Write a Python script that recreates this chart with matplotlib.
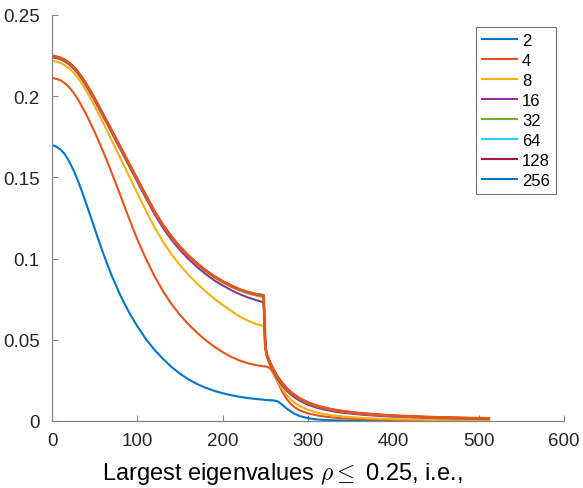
import matplotlib
matplotlib.use("Agg")
import matplotlib.pyplot as plt
from matplotlib.lines import Line2D

plt.rcParams['font.family'] = ['Liberation Sans', 'DejaVu Sans']
plt.rcParams['mathtext.fontset'] = 'cm'

# sample positions (index of eigenvalue), jump right after 248
x = [1, 5, 10, 15, 20, 25, 30, 35, 40, 45, 50, 55, 60, 65, 70, 80, 90, 100, 110, 120,
     130, 140, 150, 160, 170, 180, 190, 200, 210, 220, 230, 240, 248,
     250, 252, 255, 258, 260, 263, 265, 268, 270, 275, 280, 285, 290, 300, 310, 320,
     330, 340, 355, 370, 385, 400, 425, 450, 480, 512]

labels = ['2', '4', '8', '16', '32', '64', '128', '256']

y2 = [0.1697, 0.1690, 0.1672, 0.1643, 0.1600, 0.1547, 0.1485, 0.1415, 0.1340, 0.1263,
      0.1185, 0.1108, 0.1033, 0.0962, 0.0895, 0.0775, 0.0672, 0.0583, 0.0505, 0.0439,
      0.0383, 0.0333, 0.0291, 0.0256, 0.0228, 0.0205, 0.0186, 0.0171, 0.0159, 0.0149,
      0.0141, 0.0135, 0.0131,
      0.0130, 0.0129, 0.0128, 0.0127, 0.0126, 0.0123, 0.0119, 0.0108, 0.0099, 0.0077,
      0.0058, 0.0043, 0.0031, 0.0017, 0.0010, 0.0006, 0.0004, 0.0003, 0.0002, 0.0002,
      0.0001, 0.0001, 0.0001, 0.0001, 0.0001, 0.0001]
y4 = [0.2111, 0.2107, 0.2098, 0.2080, 0.2056, 0.2023, 0.1984, 0.1938, 0.1889, 0.1835,
      0.1779, 0.1720, 0.1658, 0.1594, 0.1528, 0.1391, 0.1251, 0.1118, 0.1000, 0.0893,
      0.0800, 0.0720, 0.0653, 0.0595, 0.0544, 0.0498, 0.0458, 0.0424, 0.0395, 0.0372,
      0.0355, 0.0343, 0.0337,
      0.0336, 0.0334, 0.0326, 0.0305, 0.0287, 0.0255, 0.0233, 0.0200, 0.0179, 0.0136,
      0.0104, 0.0082, 0.0066, 0.0047, 0.0035, 0.0027, 0.0021, 0.0017, 0.0013, 0.0010,
      0.0008, 0.0007, 0.0005, 0.0004, 0.0003, 0.0003]
y8 = [0.2217, 0.2213, 0.2205, 0.2191, 0.2172, 0.2147, 0.2116, 0.2078, 0.2035, 0.1988,
      0.1939, 0.1887, 0.1835, 0.1782, 0.1728, 0.1620, 0.1512, 0.1403, 0.1297, 0.1194,
      0.1104, 0.1027, 0.0959, 0.0900, 0.0846, 0.0798, 0.0754, 0.0715, 0.0678, 0.0643,
      0.0617, 0.0596, 0.0585,
      0.0445, 0.0392, 0.0350, 0.0312, 0.0290, 0.0258, 0.0238, 0.0212, 0.0196, 0.0161,
      0.0132, 0.0110, 0.0093, 0.0069, 0.0053, 0.0042, 0.0034, 0.0028, 0.0022, 0.0017,
      0.0014, 0.0012, 0.0009, 0.0007, 0.0006, 0.0005]
y16 = [0.2239, 0.2235, 0.2228, 0.2214, 0.2196, 0.2171, 0.2142, 0.2105, 0.2064, 0.2019,
       0.1973, 0.1923, 0.1874, 0.1825, 0.1774, 0.1674, 0.1573, 0.1473, 0.1373, 0.1275,
       0.1189, 0.1116, 0.1052, 0.0997, 0.0948, 0.0905, 0.0867, 0.0835, 0.0806, 0.0781,
       0.0760, 0.0743, 0.0731,
       0.0452, 0.0397, 0.0355, 0.0320, 0.0299, 0.0270, 0.0253, 0.0231, 0.0217, 0.0187,
       0.0162, 0.0142, 0.0126, 0.0100, 0.0082, 0.0069, 0.0059, 0.0051, 0.0043, 0.0036,
       0.0031, 0.0027, 0.0022, 0.0018, 0.0015, 0.0012]
y32 = [0.2245, 0.2241, 0.2234, 0.2221, 0.2203, 0.2179, 0.2150, 0.2113, 0.2072, 0.2028,
       0.1982, 0.1933, 0.1884, 0.1835, 0.1785, 0.1685, 0.1584, 0.1484, 0.1385, 0.1288,
       0.1203, 0.1131, 0.1067, 0.1013, 0.0965, 0.0922, 0.0885, 0.0854, 0.0826, 0.0803,
       0.0785, 0.0771, 0.0763,
       0.0458, 0.0402, 0.0361, 0.0328, 0.0308, 0.0280, 0.0264, 0.0242, 0.0228, 0.0198,
       0.0173, 0.0153, 0.0136, 0.0109, 0.0090, 0.0077, 0.0066, 0.0058, 0.0049, 0.0042,
       0.0036, 0.0031, 0.0026, 0.0022, 0.0018, 0.0015]
y64 = [0.2246, 0.2242, 0.2235, 0.2222, 0.2204, 0.2180, 0.2151, 0.2115, 0.2074, 0.2030,
       0.1984, 0.1935, 0.1886, 0.1837, 0.1787, 0.1687, 0.1587, 0.1487, 0.1388, 0.1291,
       0.1206, 0.1134, 0.1071, 0.1017, 0.0969, 0.0927, 0.0890, 0.0859, 0.0832, 0.0809,
       0.0792, 0.0779, 0.0773,
       0.0460, 0.0404, 0.0364, 0.0331, 0.0311, 0.0283, 0.0267, 0.0245, 0.0231, 0.0201,
       0.0176, 0.0156, 0.0139, 0.0112, 0.0093, 0.0079, 0.0068, 0.0060, 0.0050, 0.0043,
       0.0037, 0.0032, 0.0027, 0.0022, 0.0019, 0.0016]
y128 = [0.2247, 0.2243, 0.2236, 0.2223, 0.2205, 0.2181, 0.2152, 0.2116, 0.2075, 0.2031,
        0.1985, 0.1936, 0.1887, 0.1838, 0.1788, 0.1688, 0.1588, 0.1488, 0.1389, 0.1292,
        0.1207, 0.1135, 0.1072, 0.1018, 0.0970, 0.0928, 0.0891, 0.0860, 0.0833, 0.0810,
        0.0793, 0.0780, 0.0774,
        0.0460, 0.0405, 0.0365, 0.0332, 0.0312, 0.0284, 0.0268, 0.0246, 0.0232, 0.0202,
        0.0177, 0.0157, 0.0140, 0.0113, 0.0094, 0.0080, 0.0069, 0.0061, 0.0051, 0.0044,
        0.0038, 0.0033, 0.0027, 0.0023, 0.0019, 0.0016]
y256 = [0.2247, 0.2243, 0.2236, 0.2223, 0.2205, 0.2181, 0.2152, 0.2116, 0.2075, 0.2031,
        0.1985, 0.1936, 0.1887, 0.1838, 0.1788, 0.1688, 0.1588, 0.1488, 0.1389, 0.1292,
        0.1207, 0.1135, 0.1072, 0.1018, 0.0970, 0.0928, 0.0891, 0.0860, 0.0833, 0.0810,
        0.0793, 0.0780, 0.0774,
        0.0460, 0.0405, 0.0365, 0.0332, 0.0312, 0.0284, 0.0268, 0.0246, 0.0232, 0.0202,
        0.0177, 0.0157, 0.0140, 0.0113, 0.0094, 0.0080, 0.0069, 0.0061, 0.0051, 0.0044,
        0.0038, 0.0033, 0.0027, 0.0023, 0.0019, 0.0016]

series = [y2, y4, y8, y16, y32, y64, y128, y256]

# colours as they appear in the legend
legend_colors = ['#0076C8', '#E4541B', '#F2B20F', '#8A3595', '#71B02A', '#2CC8F2', '#A8163A', '#0076C8']
# colours as the lines appear (the top curve shows up orange in the figure)
line_colors = ['#0076C8', '#E4541B', '#F2B20F', '#8A3595', '#71B02A', '#2CC8F2', '#A8163A', '#E4541B']
line_widths = [1.5, 1.5, 1.5, 1.5, 1.5, 1.5, 1.5, 2.0]

fig = plt.figure(figsize=(5.83, 4.89), dpi=100)
ax = fig.add_axes([52 / 583, 1 - 422 / 489, 512 / 583, 406 / 489])

for ys, c, lw in zip(series, line_colors, line_widths):
    ax.plot(x, ys, color=c, lw=lw, solid_joinstyle='round')

ax.set_xlim(0, 600)
ax.set_ylim(0, 0.25)
ax.set_xticks([0, 100, 200, 300, 400, 500, 600])
ax.set_yticks([0, 0.05, 0.1, 0.15, 0.2, 0.25])
ax.set_yticklabels(['0', '0.05', '0.1', '0.15', '0.2', '0.25'])

for s in ['top', 'right']:
    ax.spines[s].set_visible(False)
for s in ['left', 'bottom']:
    ax.spines[s].set_color('#858585')
    ax.spines[s].set_linewidth(0.9)
ax.tick_params(direction='in', length=4, width=0.8, color='#858585',
               labelsize=13.5, labelcolor='#262626')
ax.tick_params(axis='x', pad=8)
ax.tick_params(axis='y', pad=9)

ax.set_xlabel(r'Largest eigenvalues $\rho \leq$ 0.25, i.e.,', fontsize=17, color='black')
ax.xaxis.set_label_coords((282 - 52) / 512, -0.095)

handles = [Line2D([0], [0], color=c, lw=1.5) for c in legend_colors]
leg = ax.legend(handles, labels, loc='upper right', bbox_to_anchor=(0.984, 0.97),
                borderaxespad=0, fontsize=12, handlelength=2.1, handletextpad=0.3,
                labelspacing=0.3, frameon=True, fancybox=False, borderpad=0.35)
leg.get_frame().set_edgecolor('#262626')
leg.get_frame().set_linewidth(0.6)

fig.savefig('out.png', dpi=100)
